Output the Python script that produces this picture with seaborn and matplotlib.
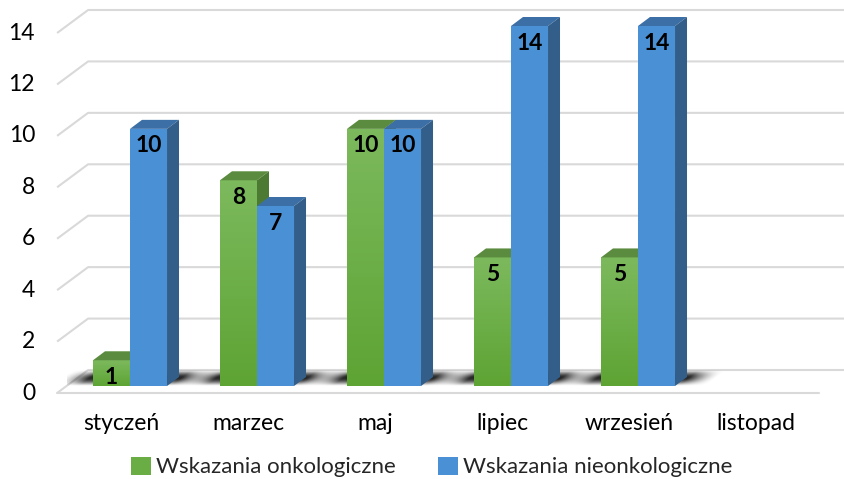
import numpy as np
import pandas as pd
import matplotlib
matplotlib.use("Agg")
import matplotlib.pyplot as plt
import seaborn as sns
from matplotlib.patches import Polygon, Patch

sns.set_theme(style="white")
plt.rcParams['font.family'] = ['Lato', 'DejaVu Sans']

# dane
months = ["styczeń", "marzec", "maj", "lipiec", "wrzesień", "listopad"]
onko = [1, 8, 10, 5, 5, None]
nieonko = [10, 7, 10, 14, 14, None]
series = ["Wskazania onkologiczne", "Wskazania nieonkologiczne"]
yticks = [0, 2, 4, 6, 8, 10, 12, 14]

df = pd.DataFrame({
    "miesiac": months * 2,
    "liczba": pd.to_numeric(pd.Series(onko + nieonko), errors="coerce"),
    "seria": [series[0]] * len(months) + [series[1]] * len(months),
})

green, blue = "#6aad45", "#4a90d4"
faces = [
    {"top": "#5b8b3e", "side": "#4d7a33", "grad": ("#7cb95d", "#5ea434")},
    {"top": "#3c6fa6", "side": "#335e89", "grad": None},
]
grid_c = "#d9d9d9"

W, H = 845, 479
fig = plt.figure(figsize=(W / 100, H / 100), dpi=100)
left_px, right_px, top_px, bot_px = 66.5, 828.5, 26, 386
ax = fig.add_axes([left_px / W, 1 - bot_px / H, (right_px - left_px) / W, (bot_px - top_px) / H])

sns.barplot(data=df, x="miesiac", y="liczba", hue="seria", order=months, hue_order=series,
            palette=[green, blue], width=0.583, saturation=1, errorbar=None,
            legend=False, ax=ax)

ax.set_xlim(-0.5, len(months) - 0.5)
ax.set_ylim(0, 14)
ax.axis("off")

ppx = (right_px - left_px) / len(months)
ppy = (bot_px - top_px) / 14.0
px = lambda v: v / ppx
py = lambda v: v / ppy

# siatka 3D: przod (-9.4, +7 px), tyl (+21.6, -16 px)
fx, fy = px(-9.4), py(-7)
bx, by = px(21.6), py(16)
x_left = -0.5
for v in yticks:
    ax.plot([x_left + fx, x_left + bx, len(months) - 0.5 + bx + px(20)],
            [v + fy, v + by, v + by], color=grid_c, lw=1.5, zorder=1,
            clip_on=False, solid_capstyle="butt")
    ax.annotate(str(v), (x_left, v), xytext=(-31.5 * 0.72, -7 * 0.72),
                textcoords="offset points", ha="right", va="center",
                fontsize=16.5, color="#000000", annotation_clip=False)
# podloga - przednia krawedz
ax.plot([x_left + fx, len(months) - 0.5 + fx], [fy, fy], color=grid_c, lw=1.5,
        zorder=1, clip_on=False)

for i, m in enumerate(months):
    ax.annotate(m, (i, 0), xytext=(-9 * 0.72, -37 * 0.72), textcoords="offset points",
                ha="center", va="center", fontsize=16.5, color="#000000",
                annotation_clip=False)

# cienie pod slupkami (skosne, w glab podlogi)
for i in range(len(months)):
    hs = [c[i].get_height() if i < len(c) else np.nan for c in ax.containers]
    if not any(np.isfinite(h) and h > 0 for h in hs):
        continue
    xl = ax.containers[0][i].get_x()
    xr = ax.containers[1][i].get_x() + ax.containers[1][i].get_width()
    wpx = (xr - xl) * ppx
    gx = np.arange(-45, wpx + 60, 1.0)
    gy = np.arange(0, 16, 0.5)
    GX, GY = np.meshgrid(gx, gy)
    u = GX - 1.35 * (GY - 8)
    fade = np.clip(np.minimum(u + 32, wpx + 42 - u) / 28, 0, 1) ** 1.5
    prof = np.sin(np.pi * GY / 16) ** 1.2
    rgba = np.zeros(GX.shape + (4,))
    rgba[..., 3] = 0.85 * fade * prof
    ax.imshow(rgba, extent=(xl + px(gx[0]), xl + px(gx[-1]), 0, py(16)), aspect="auto",
              zorder=2, interpolation="bilinear", origin="lower")

# sciany 3D slupkow
DX, DY = px(12), py(9)
for k, cont in enumerate(ax.containers):
    z = 3 + k
    for bar in cont:
        h = bar.get_height()
        if not np.isfinite(h) or h <= 0:
            continue
        x0, w = bar.get_x(), bar.get_width()
        bar.set_zorder(z)
        bar.set_edgecolor("none")
        if faces[k]["grad"] is not None:
            cm = matplotlib.colors.LinearSegmentedColormap.from_list("g", [faces[k]["grad"][1], faces[k]["grad"][0]])
            im = ax.imshow(np.linspace(0, 1, 64)[:, None], cmap=cm, extent=(x0, x0 + w, 0, h),
                           aspect="auto", origin="lower", zorder=z + 0.1)
            im.set_clip_path(bar)
        ax.add_patch(Polygon([(x0, h), (x0 + w, h), (x0 + w + DX, h + DY), (x0 + DX, h + DY)],
                             fc=faces[k]["top"], ec="none", zorder=z + 0.2, clip_on=False))
        ax.add_patch(Polygon([(x0 + w, 0), (x0 + w + DX, DY), (x0 + w + DX, h + DY), (x0 + w, h)],
                             fc=faces[k]["side"], ec="none", zorder=z + 0.2, clip_on=False))
        ax.annotate(f"{h:g}", (x0 + w / 2, h), xytext=(0, -17 * 0.72), textcoords="offset points",
                    ha="center", va="center", fontsize=16.5, fontweight="bold",
                    color="#000000", zorder=8)

ax.set_xlim(-0.5, len(months) - 0.5)
ax.set_ylim(0, 14)

handles = [Patch(fc=green, ec="none"), Patch(fc=blue, ec="none")]
fig.legend(handles, series, loc="center", bbox_to_anchor=(432 / W, 1 - 467 / H), ncol=2,
           frameon=False, fontsize=16, handlelength=0.88, handleheight=0.88,
           handletextpad=0.25, columnspacing=1.9)

fig.savefig("out.png", dpi=100)
